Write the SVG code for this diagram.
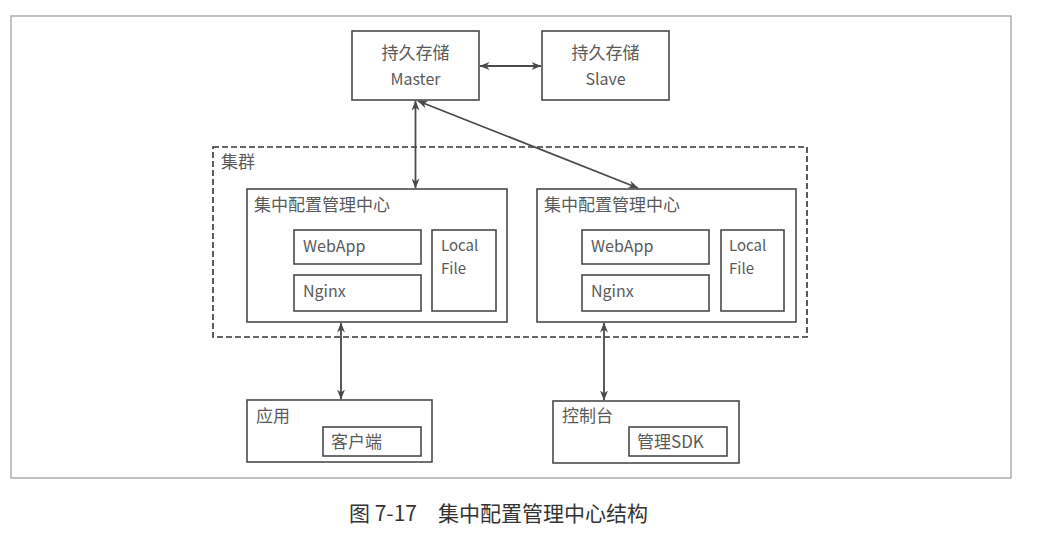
<svg xmlns="http://www.w3.org/2000/svg" width="1039" height="535" viewBox="0 0 1039 535">
<defs>
<marker id="ah" viewBox="0 0 10 8" refX="9.5" refY="4" markerWidth="10" markerHeight="8" markerUnits="userSpaceOnUse" orient="auto-start-reverse">
<path d="M0,0 L10,4 L0,8 L3,4 Z" fill="#4a4a4a"/>
</marker>
</defs>
<style>
.box{fill:#fff;stroke:#4a4a4a;stroke-width:1.6}
.t{font-family:"Noto Sans CJK SC","Noto Sans",sans-serif;fill:#5a5a5a;font-size:16px}
.s{font-family:"Noto Sans CJK SC","Noto Sans",sans-serif;fill:#5a5a5a;font-size:15px}
.c{font-family:"Noto Sans CJK SC",sans-serif;fill:#5a5a5a;font-size:17px}
.con{stroke:#4a4a4a;stroke-width:1.8;fill:none;marker-start:url(#ah);marker-end:url(#ah)}
</style>
<rect x="0" y="0" width="1039" height="535" fill="#fff"/>
<rect id="frame" x="11" y="16" width="1000" height="462" fill="none" stroke="#999" stroke-width="1.2"/>
<g id="cluster">
<rect x="213" y="147" width="594" height="190" fill="none" stroke="#333" stroke-width="1.6" stroke-dasharray="6,3"/>
<text class="c" x="221" y="168">集群</text>
</g>
<g id="master">
<rect class="box" x="352" y="31" width="127" height="69"/>
<text class="c" x="415.5" y="59" text-anchor="middle">持久存储</text>
<text class="t" x="415.5" y="85" text-anchor="middle">Master</text>
</g>
<g id="slave">
<rect class="box" x="542" y="31" width="127" height="69"/>
<text class="c" x="605.5" y="59" text-anchor="middle">持久存储</text>
<text class="t" x="605.5" y="85" text-anchor="middle">Slave</text>
</g>
<g id="center1">
<rect class="box" x="247" y="189" width="260" height="133"/>
<text class="c" x="254" y="211">集中配置管理中心</text>
<rect class="box" x="294" y="230" width="127" height="34"/>
<text class="t" x="303" y="252">WebApp</text>
<rect class="box" x="294" y="275" width="127" height="36"/>
<text class="t" x="303" y="297">Nginx</text>
<rect class="box" x="432" y="230" width="64" height="81"/>
<text class="s" x="441" y="251">Local</text>
<text class="s" x="441" y="274">File</text>
</g>
<g id="center2">
<rect class="box" x="537" y="189" width="259" height="133"/>
<text class="c" x="544" y="211">集中配置管理中心</text>
<rect class="box" x="582" y="230" width="127" height="34"/>
<text class="t" x="591" y="252">WebApp</text>
<rect class="box" x="582" y="275" width="127" height="36"/>
<text class="t" x="591" y="297">Nginx</text>
<rect class="box" x="721" y="230" width="63" height="81"/>
<text class="s" x="729" y="251">Local</text>
<text class="s" x="729" y="274">File</text>
</g>
<g id="app">
<rect class="box" x="247" y="400" width="185" height="62"/>
<text class="c" x="256" y="422">应用</text>
<rect class="box" x="323" y="427" width="98" height="29"/>
<text class="c" x="331" y="448">客户端</text>
</g>
<g id="console">
<rect class="box" x="553" y="401" width="186" height="62"/>
<text class="c" x="562" y="422">控制台</text>
<rect class="box" x="629" y="427" width="98" height="29"/>
<text class="c" x="637" y="448">管理SDK</text>
</g>
<g id="connectors">
<line class="con" x1="480" y1="66" x2="541" y2="66"/>
<line class="con" x1="415.5" y1="101" x2="415.5" y2="188"/>
<line class="con" x1="418" y1="101" x2="638" y2="188"/>
<line class="con" x1="341" y1="323" x2="341" y2="399"/>
<line class="con" x1="604" y1="323" x2="604" y2="400"/>
</g>
<text id="caption" x="349" y="521" font-family="'Noto Sans CJK SC',serif" font-size="21" fill="#333">图 7-17　集中配置管理中心结构</text>
</svg>
